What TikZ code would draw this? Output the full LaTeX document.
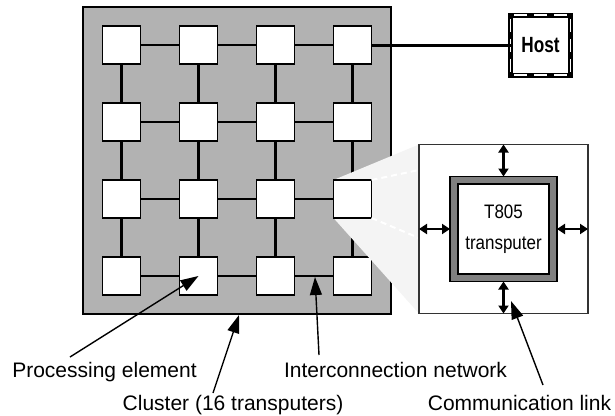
\documentclass[tikz,border=0pt]{standalone}
\usepackage{fontspec}
\setmainfont{Liberation Sans}
\newfontfamily\narrowfont[FakeStretch=0.87]{Liberation Sans}
\newfontfamily\hostfont[FakeStretch=0.78]{Liberation Sans}
\usetikzlibrary{arrows.meta}
\pgfdeclarelayer{funnel}
\pgfdeclarelayer{top}
\pgfsetlayers{main,funnel,top}
\definecolor{clgray}{gray}{0.70}
\definecolor{chipgray}{gray}{0.50}
\definecolor{funnelgray}{gray}{0.955}
\begin{document}
\begin{tikzpicture}[x=1pt,y=-1pt,
  pe/.style={draw=black,line width=1.5pt,fill=white,minimum size=38pt,inner sep=0pt,outer sep=0pt},
  link/.style={line width=2.5pt},
  lbl/.style={font=\fontsize{21}{25}\selectfont,inner sep=0pt,anchor=base},
  ann/.style={line width=1.4pt,-{Triangle[length=18pt,width=12pt]}},
  dbl/.style={line width=2.8pt,{Triangle[length=8pt,width=10pt]}-{Triangle[length=8pt,width=10pt]}},
  zoomdash/.style={white,line width=2pt,dash pattern=on 6pt off 4pt}]
\path[use as bounding box,fill=white] (0,0) rectangle (615,415);
% cluster
\node[draw=black,line width=1.5pt,fill=clgray,minimum width=308pt,minimum height=307pt,inner sep=0pt,outer sep=0pt,anchor=north west] (cluster) at (83,7) {};
% processing elements
\foreach \r/\c in {1/1,1/2,1/3,1/4,2/1,2/2,2/3,2/4,3/1,3/2,3/3,4/1,4/2,4/3,4/4}{
  \node[pe] (p\r\c) at ({121.5+77*(\c-1)},{45+77*(\r-1)}) {};
}
\begin{pgfonlayer}{top}
\node[pe] (p34) at (352.5,199) {};
\end{pgfonlayer}
% links
\foreach \r in {1,2,3,4}{\foreach \c/\n in {1/2,2/3,3/4}{\draw[link] (p\r\c) -- (p\r\n);}}
\foreach \c in {1,2,3,4}{\foreach \r/\n in {1/2,2/3,3/4}{\draw[link] (p\r\c) -- (p\n\c);}}
% host
\node[draw=black,line width=5pt,fill=white,minimum size=60pt,inner sep=0pt,outer sep=0pt,font=\hostfont\bfseries\fontsize{22}{26}\selectfont] (host) at (540.5,45) {Host};
\draw[white,line width=1.5pt,dash pattern=on 13pt off 7pt,dash phase=16.5pt] (host.north west) rectangle (host.south east);
\draw[line width=3pt] (p14) -- (host);
% inset
\begin{pgfonlayer}{top}
\coordinate (dz1) at (419,170);
\coordinate (dz2) at (419,238);
\draw[zoomdash] (p34.north east) -- (dz1);
\draw[zoomdash] (p34.south east) -- (dz2);
\node[draw=black!80,line width=1.2pt,fill=white,minimum size=169pt,inner sep=0pt,outer sep=0pt] (inset) at (503.5,229) {};
\node[draw=black,line width=1.2pt,fill=chipgray,minimum width=107pt,minimum height=105pt,inner sep=0pt,outer sep=0pt] (chip) at (503.5,229) {};
\node[draw=black,line width=1.2pt,fill=white,minimum width=91pt,minimum height=90pt,align=center,inner sep=0pt,outer sep=0pt,font=\narrowfont\fontsize{19.5}{31}\selectfont] (core) at (503.5,229) {T805\\transputer};
\draw[dbl] (inset.west) -- (chip.west);
\draw[dbl] (chip.east) -- (inset.east);
\draw[dbl] (inset.north) -- (chip.north);
\draw[dbl] (chip.south) -- (inset.south);
\end{pgfonlayer}
\begin{pgfonlayer}{funnel}
\fill[funnelgray] (p34.north west) -- (inset.north west) -- (inset.south west) -- (p34.south west) -- cycle;
\end{pgfonlayer}
% annotations
\begin{pgfonlayer}{top}
\node[lbl] (pel) at (104.5,377) {Processing element};
\node[lbl] (cll) at (233,410) {Cluster (16 transputers)};
\node[lbl] (inl) at (395.5,377) {Interconnection network};
\node[lbl] (cml) at (519.5,410) {Communication link};
\coordinate (peT) at (70,357);
\coordinate (clT) at (213,393);
\coordinate (clH) at (239,315);
\coordinate (inT) at (319,355);
\coordinate (inH) at (315,277);
\coordinate (cmT) at (543,385);
\coordinate (cmH) at (511,301);
\draw[ann] (peT) -- (p42.center);
\draw[ann] (clT) -- (clH);
\draw[ann] (inT) -- (inH);
\draw[ann] (cmT) -- (cmH);
\end{pgfonlayer}
\end{tikzpicture}
\end{document}
